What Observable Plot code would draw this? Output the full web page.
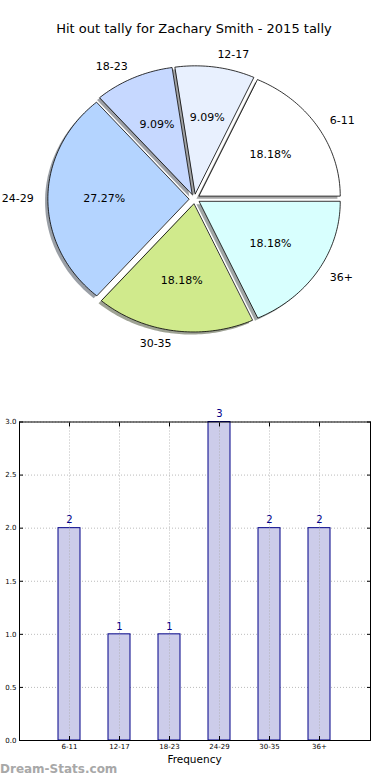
<!DOCTYPE html>
<html>
<head>
<meta charset="utf-8">
<script src="https://cdn.jsdelivr.net/npm/d3@7"></script>
<script src="https://cdn.jsdelivr.net/npm/@observablehq/plot@0.6"></script>
<style>
  html, body { margin: 0; padding: 0; background: #fff; }
  #wrap { position: relative; width: 390px; height: 780px; overflow: hidden; font-family: "DejaVu Sans", sans-serif; }
  #title { position: absolute; top: 21px; left: 0; width: 388px; text-align: center; font-size: 13px; color: #000; }
  #pie { position: absolute; top: 0; left: 0; }
  #bar { position: absolute; top: 400px; left: 0; }
  #xlabel { position: absolute; top: 753px; left: 0; width: 389px; text-align: center; font-size: 10.5px; color: #000; }
  #wm { position: absolute; top: 762px; left: 0; font-size: 12px; font-weight: bold; color: #a8a8a8; }
</style>
</head>
<body>
<div id="wrap">
  <div id="pie"></div>
  <div id="title">Hit out tally for Zachary Smith - 2015 tally</div>
  <div id="bar"></div>
  <div id="xlabel">Frequency</div>
  <div id="wm">Dream-Stats.com</div>
</div>
<script>
const categories = ["6-11", "12-17", "18-23", "24-29", "30-35", "36+"];
const counts = [2, 1, 1, 3, 2, 2];
const sliceColors = ["#ffffff", "#e8f0fe", "#c6d8ff", "#b4d4ff", "#d0ea8c", "#d8fffe"];
const yTicks = [0, 0.5, 1.0, 1.5, 2.0, 2.5, 3.0];

// ---------- Pie (matplotlib-style exploded pie with shadow) ----------
const explode = 0.04, labelDist = 1.1, pctDist = 0.6;
const total = d3.sum(counts);
const slicePts = [], shadowPts = [], labels = [], pcts = [];
let acc = 0;
categories.forEach((cat, i) => {
  const a0 = acc / total * 2 * Math.PI;
  acc += counts[i];
  const a1 = acc / total * 2 * Math.PI;
  const mid = (a0 + a1) / 2;
  const ox = explode * Math.cos(mid), oy = explode * Math.sin(mid);
  const n = Math.max(8, Math.ceil((a1 - a0) / 0.02));
  const pts = [[ox, oy]];
  for (let k = 0; k <= n; k++) {
    const a = a0 + (a1 - a0) * k / n;
    pts.push([ox + Math.cos(a), oy + Math.sin(a)]);
  }
  pts.forEach(([x, y]) => {
    slicePts.push({cat, x, y});
    shadowPts.push({cat, x: x - 0.02, y: y - 0.02});
  });
  labels.push({cat, x: ox + labelDist * Math.cos(mid), y: oy + labelDist * Math.sin(mid),
    anchor: Math.cos(mid) > 0 ? "start" : "end"});
  pcts.push({cat, x: ox + pctDist * Math.cos(mid), y: oy + pctDist * Math.sin(mid),
    text: (counts[i] / total * 100).toFixed(2) + "%"});
});
const shadowColors = sliceColors.map(c => { const r = d3.rgb(c); return d3.rgb(r.r * 0.3, r.g * 0.3, r.b * 0.3).formatHex(); });
const colorOf = Object.fromEntries(categories.map((c, i) => [c, sliceColors[i]]));
const shadowOf = Object.fromEntries(categories.map((c, i) => [c, shadowColors[i]]));

const rx = 141, ry = 128, cx = 194, cy = 198.4, W = 390, H = 390;
const pie = Plot.plot({
  width: W, height: H, margin: 0,
  x: {domain: [-cx / rx, (W - cx) / rx], axis: null},
  y: {domain: [-(H - cy) / ry, cy / ry], axis: null},
  style: {fontFamily: "DejaVu Sans, sans-serif", background: "transparent"},
  marks: [
    Plot.line(shadowPts, {x: "x", y: "y", z: "cat", curve: "linear-closed",
      fill: d => shadowOf[d.cat], fillOpacity: 0.5, stroke: "none"}),
    Plot.line(slicePts, {x: "x", y: "y", z: "cat", curve: "linear-closed",
      fill: d => colorOf[d.cat], stroke: "#000", strokeWidth: 0.8, strokeLinejoin: "round"}),
    Plot.text(labels.filter(d => d.anchor === "start"), {x: "x", y: "y", text: "cat", textAnchor: "start", fontSize: 11, fill: "#000"}),
    Plot.text(labels.filter(d => d.anchor === "end"), {x: "x", y: "y", text: "cat", textAnchor: "end", fontSize: 11, fill: "#000"}),
    Plot.text(pcts, {x: "x", y: "y", text: "text", fontSize: 11, fill: "#000"})
  ]
});
document.getElementById("pie").appendChild(pie);

// ---------- Bar chart ----------
const bars = categories.map((c, i) => ({cat: c, n: counts[i]}));
const bar = Plot.plot({
  width: 390, height: 355,
  marginLeft: 19, marginRight: 20, marginTop: 21.5, marginBottom: 15,
  style: {fontFamily: "DejaVu Sans, sans-serif", background: "transparent", overflow: "visible"},
  x: {domain: categories, paddingInner: 0.55, paddingOuter: 0.78},
  y: {domain: [0, 3]},
  marks: [
    Plot.gridY(yTicks, {stroke: "#aaa", strokeOpacity: 1, strokeDasharray: "1,2", strokeWidth: 0.8}),
    Plot.barY(bars, {x: "cat", y: "n", fill: "#ccccea", stroke: "#000088", strokeWidth: 1}),
    Plot.gridX(categories, {stroke: "#aaa", strokeOpacity: 1, strokeDasharray: "1,2", strokeWidth: 0.8}),
    Plot.axisY(yTicks, {anchor: "left", tickSize: -4, tickPadding: 7, tickFormat: d => d.toFixed(1), label: null, fontSize: 7}),
    Plot.axisY(yTicks, {anchor: "right", tickSize: -4, text: null, label: null}),
    Plot.axisX(categories, {anchor: "bottom", tickSize: -4, tickPadding: 8, label: null, fontSize: 7}),
    Plot.axisX(categories, {anchor: "top", tickSize: -4, text: null, label: null}),
    Plot.text(bars, {x: "cat", y: "n", text: d => String(d.n), dy: -8, fill: "#000088", fontSize: 10}),
    Plot.frame({stroke: "#000", strokeWidth: 1})
  ]
});
document.getElementById("bar").appendChild(bar);
</script>
</body>
</html>
